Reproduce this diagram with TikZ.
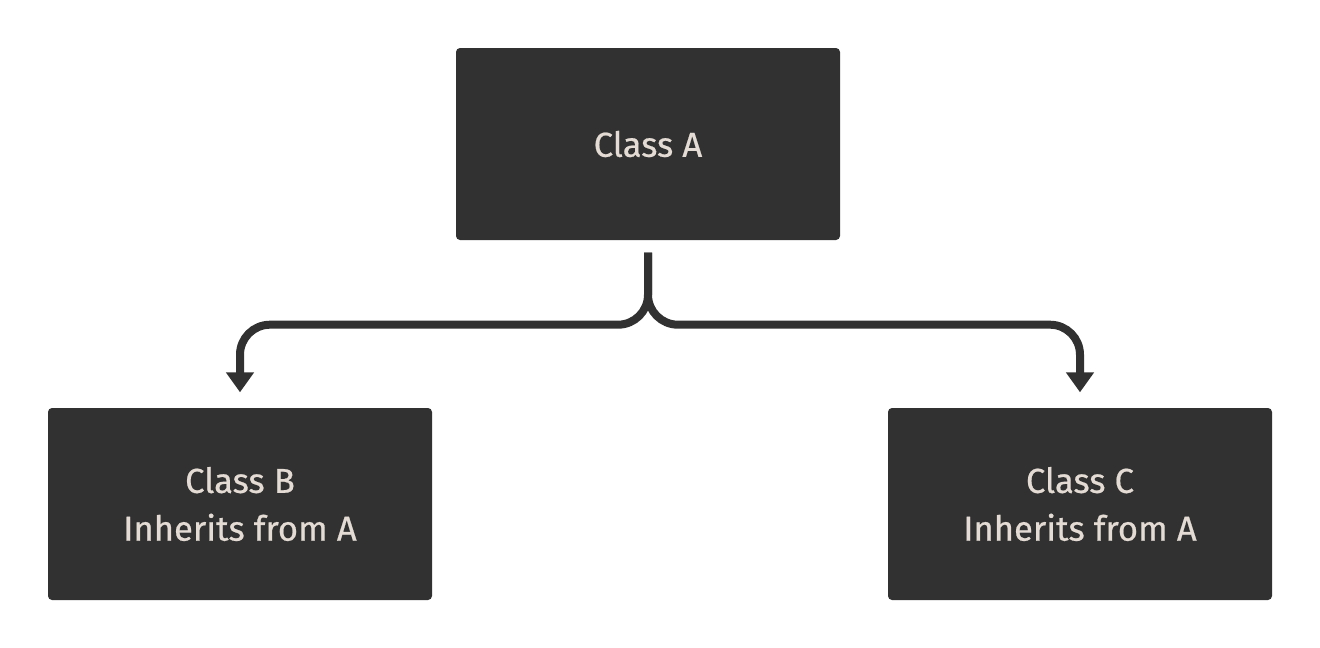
\documentclass[tikz,border=0pt]{standalone}
\usepackage{fontspec}
\setmainfont{Fira Sans}[FakeBold=0.6]
\usetikzlibrary{positioning, arrows.meta}

\definecolor{boxgray}{HTML}{313131}
\definecolor{textbeige}{HTML}{E4DCD4}

\begin{document}
\begin{tikzpicture}[node distance=2.5cm, on grid, thick,
    classbox/.style={rectangle, rounded corners=0.08cm, fill=boxgray, text=textbeige,
        minimum width=7.68cm, minimum height=3.84cm, align=center,
        font=\fontsize{19.7}{27.2}\selectfont},
    link/.style={draw=boxgray, line width=0.16cm, rounded corners=0.6cm,
        -{Triangle[width=0.54cm,length=0.4cm]}, shorten <=0.24cm, shorten >=0.3cm}]
    \useasboundingbox (0,0) rectangle (26.4,-12.96);

    % Nodes
    \node[classbox] (A) at (12.96,-2.88) {Class A};
    \node[classbox] (B) [below left=7.2cm and 8.16cm of A] {Class B\\Inherits from A};
    \node[classbox] (C) [right=16.8cm of B] {Class C\\Inherits from A};

    % Split point under A
    \coordinate (split) at ([yshift=-1.68cm]A.south);

    % Inheritance arrows
    \draw[link] (A.south) -- (split) -| (B.north);
    \draw[link] (A.south) -- (split) -| (C.north);

\end{tikzpicture}
\end{document}
